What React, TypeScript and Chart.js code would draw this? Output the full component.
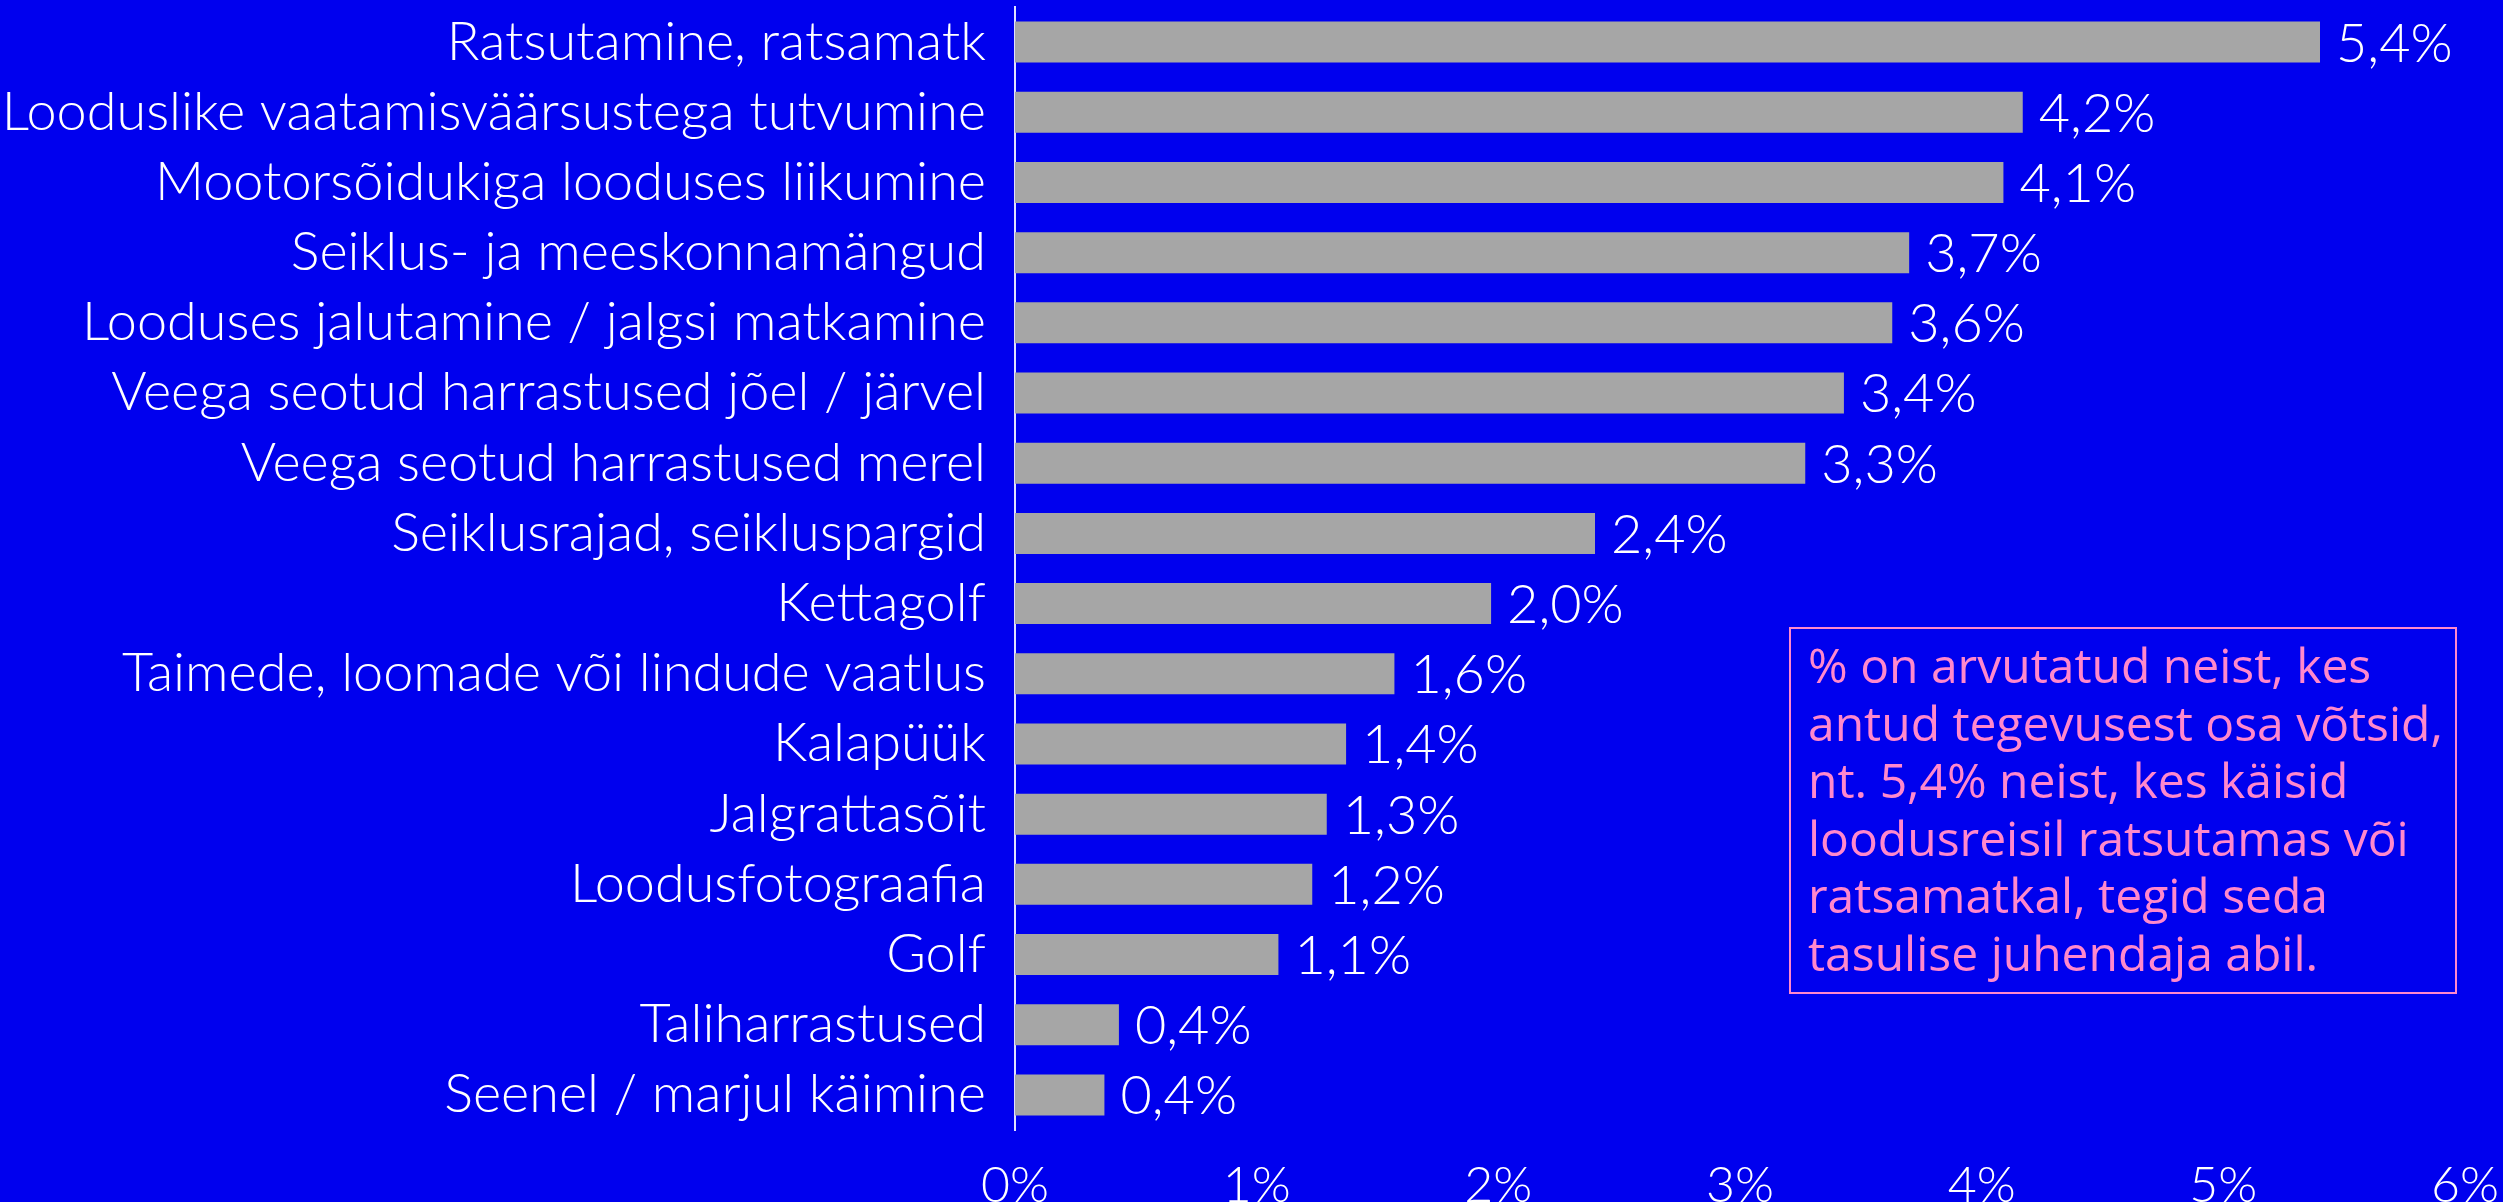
import React, { useEffect, useRef } from "react";
import { Chart, registerables } from "chart.js";

Chart.register(...registerables);

const categories = [
  "Ratsutamine, ratsamatk",
  "Looduslike vaatamisväärsustega tutvumine",
  "Mootorsõidukiga looduses liikumine",
  "Seiklus- ja meeskonnamängud",
  "Looduses jalutamine / jalgsi matkamine",
  "Veega seotud harrastused jõel / järvel",
  "Veega seotud harrastused merel",
  "Seiklusrajad, seikluspargid",
  "Kettagolf",
  "Taimede, loomade või lindude vaatlus",
  "Kalapüük",
  "Jalgrattasõit",
  "Loodusfotograafia",
  "Golf",
  "Taliharrastused",
  "Seenel / marjul käimine",
];

const values = [5.4, 4.17, 4.09, 3.7, 3.63, 3.43, 3.27, 2.4, 1.97, 1.57, 1.37, 1.29, 1.23, 1.09, 0.43, 0.37];

const valueLabels = [
  "5,4%", "4,2%", "4,1%", "3,7%", "3,6%", "3,4%", "3,3%", "2,4%",
  "2,0%", "1,6%", "1,4%", "1,3%", "1,2%", "1,1%", "0,4%", "0,4%",
];

const tickLabels = ["0%", "1%", "2%", "3%", "4%", "5%", "6%"];

const noteLines = [
  "% on arvutatud neist, kes",
  "antud tegevusest osa võtsid,",
  "nt. 5,4% neist, kes käisid",
  "loodusreisil ratsutamas või",
  "ratsamatkal, tegid seda",
  "tasulise juhendaja abil.",
];

const BG = "#0000EE";
const FONT = "Lato";

export default function App() {
  const ref = useRef<HTMLCanvasElement | null>(null);

  useEffect(() => {
    document.body.style.margin = "0";
    const canvas = ref.current;
    if (!canvas) return;

    const valueLabelPlugin = {
      id: "valueLabels",
      afterDatasetsDraw(chart: any) {
        const ctx = chart.ctx;
        const meta = chart.getDatasetMeta(0);
        ctx.save();
        ctx.fillStyle = "#ffffff";
        ctx.font = `300 54px ${FONT}`;
        ctx.textAlign = "left";
        ctx.textBaseline = "middle";
        meta.data.forEach((bar: any, i: number) => {
          ctx.fillText(valueLabels[i], bar.x + 16, bar.y + 2);
        });
        ctx.restore();
      },
    };

    const notePlugin = {
      id: "note",
      afterDraw(chart: any) {
        const ctx = chart.ctx;
        const area = chart.chartArea;
        const left = area.left + 775;
        const top = 628;
        const w = 666;
        const h = 365;
        ctx.save();
        ctx.strokeStyle = "#FF88CC";
        ctx.lineWidth = 2;
        ctx.strokeRect(left, top, w, h);
        ctx.fillStyle = "#FF88CC";
        ctx.font = `48px "Open Sans"`;
        ctx.textAlign = "left";
        ctx.textBaseline = "alphabetic";
        noteLines.forEach((line, i) => {
          ctx.fillText(line, left + 18, top + 55 + i * 57.5);
        });
        ctx.restore();
      },
    };

    const bgPlugin = {
      id: "bg",
      beforeDraw(chart: any) {
        const ctx = chart.ctx;
        ctx.save();
        ctx.fillStyle = BG;
        ctx.fillRect(0, 0, chart.width, chart.height);
        ctx.restore();
      },
    };

    const chart = new Chart(canvas, {
      type: "bar",
      data: {
        labels: categories,
        datasets: [
          {
            data: values,
            backgroundColor: "#A6A6A6",
            borderWidth: 0,
            categoryPercentage: 1,
            barPercentage: 0.585,
          },
        ],
      },
      options: {
        indexAxis: "y",
        responsive: false,
        animation: false,
        layout: { padding: { top: 7, right: 38, bottom: 0, left: 0 } },
        plugins: {
          legend: { display: false },
          tooltip: { enabled: false },
        },
        scales: {
          x: {
            min: 0,
            max: 6,
            grid: { display: false, drawTicks: false },
            border: { display: false },
            ticks: {
              stepSize: 1,
              color: "#ffffff",
              font: { family: FONT, size: 50, weight: "300" },
              padding: 26,
              maxRotation: 0,
              callback: (v: any) => tickLabels[Number(v)] ?? "",
            },
            afterFit: (scale: any) => {
              scale.height = 72;
              scale.paddingLeft = 0;
              scale.paddingRight = 0;
            },
          },
          y: {
            grid: { display: false, drawTicks: false },
            border: { display: true, color: "#E0E0FF", width: 2 },
            ticks: {
              color: "#ffffff",
              font: { family: FONT, size: 54, weight: "300" },
              padding: 29,
            },
            afterFit: (scale: any) => {
              scale.width = 1015;
              scale.paddingTop = 0;
              scale.paddingBottom = 0;
            },
          },
        },
      },
      plugins: [bgPlugin, valueLabelPlugin, notePlugin],
    });

    return () => chart.destroy();
  }, []);

  return (
    <div style={{ position: "fixed", left: 0, top: 0, width: 2503, height: 1202, background: BG }}>
      <canvas ref={ref} width={2503} height={1202} style={{ width: 2503, height: 1202, display: "block" }} />
    </div>
  );
}
